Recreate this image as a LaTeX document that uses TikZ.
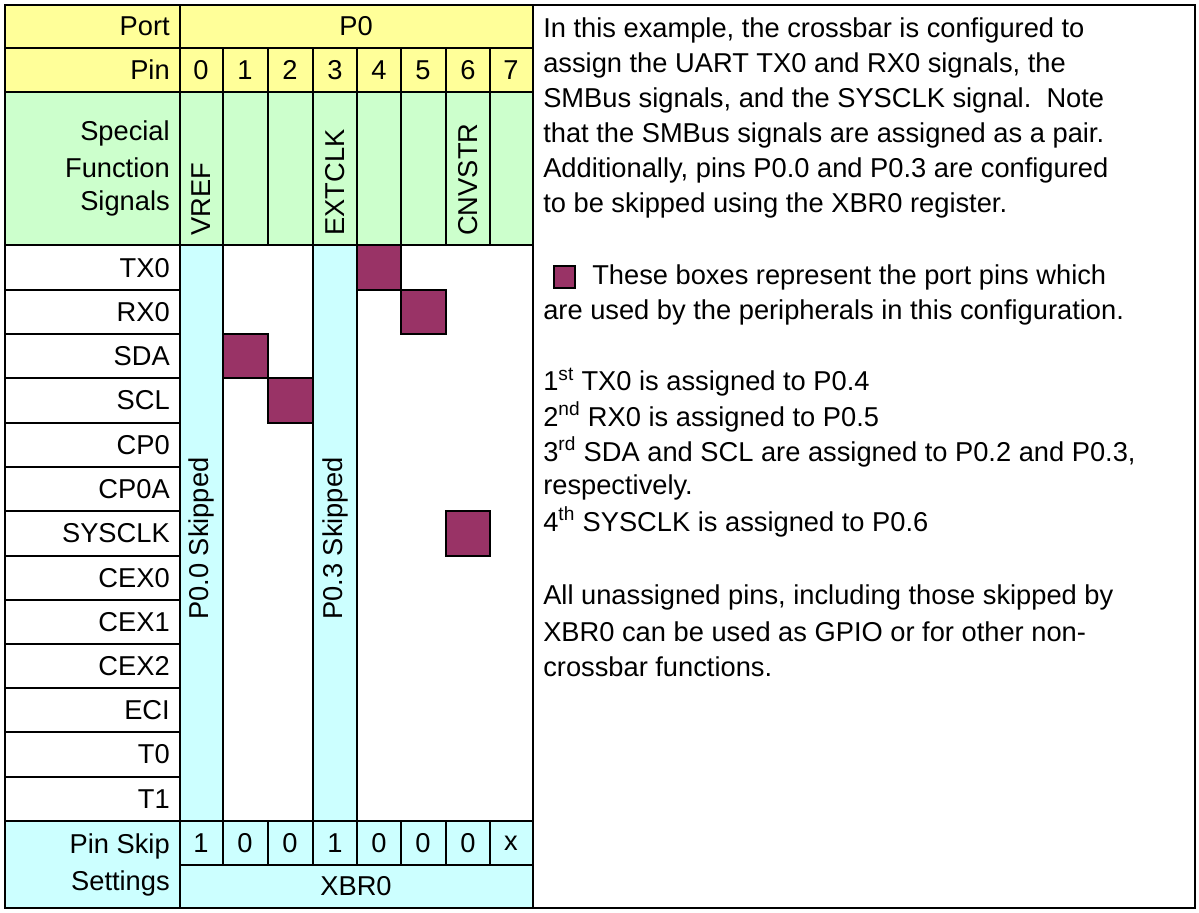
\documentclass[tikz,border=0pt]{standalone}
\usepackage{fontspec}
\setmainfont{Liberation Sans}
\definecolor{hdryellow}{HTML}{FFFF99}
\definecolor{sfgreen}{HTML}{CCFFCC}
\definecolor{skipcyan}{HTML}{CCFFFF}
\definecolor{pinpurple}{HTML}{993366}
\tikzset{
  cell/.style={draw, line width=1.2pt},
  txt/.style={inner sep=0pt, font=\fontsize{19.4}{22}\selectfont},
  used/.style={draw, line width=1.2pt, fill=pinpurple}
}
\begin{document}
\begin{tikzpicture}[x=0.25mm, y=-0.25mm]
\useasboundingbox (0,0) rectangle (1199,912);
% headers
\fill[hdryellow] (5,5) rectangle (533,92);
\fill[sfgreen] (5,92) rectangle (533,245);
\fill[skipcyan] (5,821) rectangle (533,908);
\fill[skipcyan] (180,245) rectangle (223,821);
\fill[skipcyan] (313,245) rectangle (357,821);
\draw[cell] (5,5) rectangle (1195,908);
\draw[cell] (533,5) -- (533,908);
\draw[cell] (180,5) -- (180,908);
\foreach \y in {48,92,245,821} \draw[cell] (5,\y) -- (533,\y);
\foreach \y in {290,334,378,423,467,511,556,600,644,688,732,777} \draw[cell] (5,\y) -- (180,\y);
\draw[cell] (180,865) -- (533,865);
\foreach \x in {223,268,313,357,401,446,490} {
  \draw[cell] (\x,48) -- (\x,245);
  \draw[cell] (\x,821) -- (\x,865);
}
\foreach \x in {223,313,357} \draw[cell] (\x,245) -- (\x,821);
% labels
\node[txt, anchor=east] (port) at (170,26) {Port};
\node[txt] (p0) at (356,26) {P0};
\node[txt, anchor=east] (pin) at (170,70) {Pin};
\foreach \i/\x/\v in {0/201/1,1/245/0,2/290/0,3/335/1,4/379/0,5/423/0,6/468/0,7/511/x} {
  \node[txt] (pin\i) at (\x,70) {\i};
  \node[txt] (skip\i) at (\x,843) {\v};
}
\node[txt, anchor=east] (sf1) at (170,133) {Special};
\node[txt, anchor=east] (sf2) at (170,168) {Function};
\node[txt, anchor=east] (sf3) at (170,203) {Signals};
\node[txt, rotate=90, anchor=west] (vref) at (201,236) {VREF};
\node[txt, rotate=90, anchor=west] (extclk) at (335,236) {EXTCLK};
\node[txt, rotate=90, anchor=west] (cnvstr) at (468,236) {CNVSTR};
\node[txt, rotate=90, anchor=west] (skipA) at (201,620) {P0.0 Skipped};
\node[txt, rotate=90, anchor=west] (skipB) at (335,620) {P0.3 Skipped};
\foreach \n/\y in {TX0/268,RX0/312,SDA/356,SCL/400,CP0/445,CP0A/489,SYSCLK/533,CEX0/578,CEX1/622,CEX2/666,ECI/710,T0/754,T1/799}
  \node[txt, anchor=east] (sig\n) at (170,\y) {\n};
\node[txt, anchor=east] (ps1) at (170,846) {Pin Skip};
\node[txt, anchor=east] (ps2) at (170,883) {Settings};
\node[txt] (xbr) at (356,886) {XBR0};
% assigned pins
\draw[used] (357,245) rectangle (401,290);
\draw[used] (401,290) rectangle (446,334);
\draw[used] (223,334) rectangle (268,378);
\draw[used] (268,378) rectangle (313,423);
\draw[used] (446,511) rectangle (490,556);
\draw[used] (554,266) rectangle (575,288);
% description
\foreach \k/\y/\t in {
  a/30/{In this example, the crossbar is configured to},
  b/65/{assign the UART TX0 and RX0 signals, the},
  c/100/{SMBus signals, and the SYSCLK signal.\ \ Note},
  d/135/{that the SMBus signals are assigned as a pair.},
  e/170/{Additionally, pins P0.0 and P0.3 are configured},
  f/205/{to be skipped using the XBR0 register.},
  h/312/{are used by the peripherals in this configuration.},
  i/382/{1\textsuperscript{st} TX0 is assigned to P0.4},
  j/417/{2\textsuperscript{nd} RX0 is assigned to P0.5},
  k/452/{3\textsuperscript{rd} SDA and SCL are assigned to P0.2 and P0.3,},
  l/487/{respectively.},
  m/522/{4\textsuperscript{th} SYSCLK is assigned to P0.6},
  n/597/{All unassigned pins, including those skipped by},
  o/632/{XBR0 can be used as GPIO or for other non-},
  p/667/{crossbar functions.}}
  \node[txt, anchor=west] (desc\k) at (543,\y) {\t};
\node[txt, anchor=west] (descg) at (592,277) {These boxes represent the port pins which};
\end{tikzpicture}
\end{document}
